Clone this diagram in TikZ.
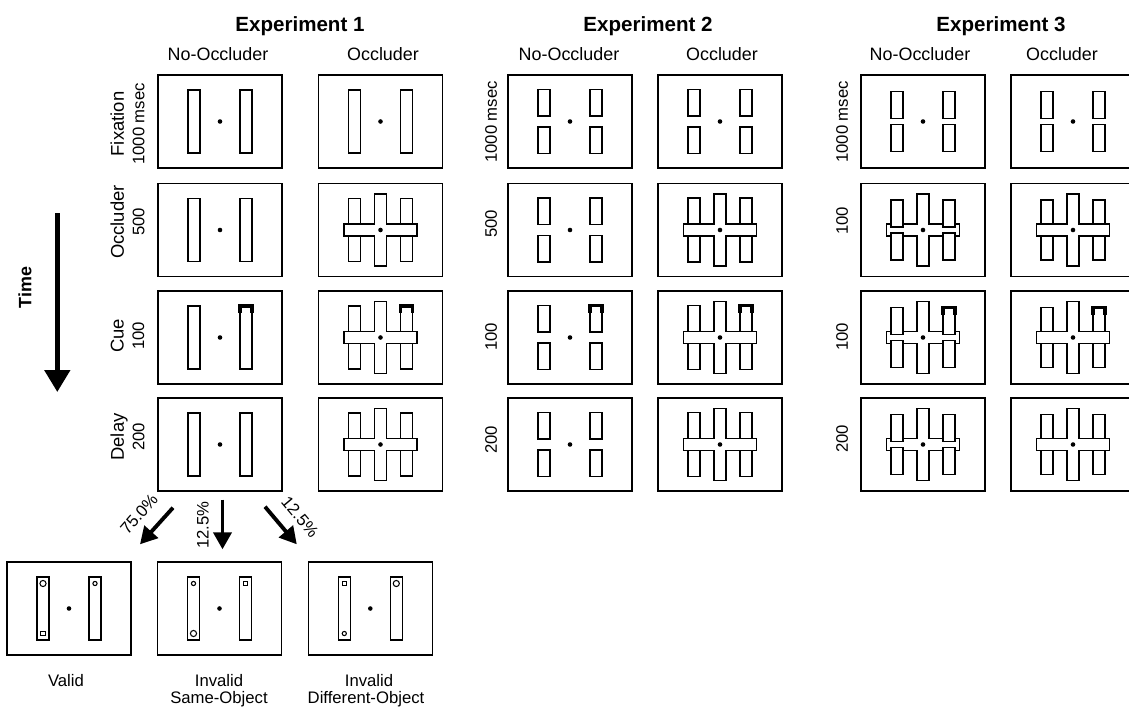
\documentclass[tikz,border=0pt]{standalone}
\usepackage{fontspec}
\setmainfont{Liberation Sans}
\usetikzlibrary{arrows.meta, positioning}

\newcommand{\durfont}{\fontsize{9.5}{11.6}\selectfont}

\tikzset{
  pics/longbars/.style={code={
    \draw[bar] (-32,-31.5) rectangle (-20,31.5);
    \draw[bar] (20,-31.5) rectangle (32,31.5);
  }},
  pics/pieces/.style args={#1/#2}{code={
    \draw[bar] (-32,-#2) rectangle (-20,-#1);
    \draw[bar] (-32,#1) rectangle (-20,#2);
    \draw[bar] (20,-#2) rectangle (32,-#1);
    \draw[bar] (20,#1) rectangle (32,#2);
  }},
  pics/cross/.style={code={
    \draw[bar] (-36.5,-6) -| (-6,-36) -| (6,-6) -| (36.5,6) -| (6,36) -| (-6,6) -| (-36.5,-6) -- cycle;
  }},
  pics/cue/.style={code={
    \draw[cuemark] (20,{#1+7}) -- (20,#1) -- (32,#1) -- (32,{#1+7});
  }},
  pics/bigo/.style={code={\draw[probe] (0,0) circle[radius=1.75pt];}},
  pics/smallo/.style={code={\draw[probe] (0,0) circle[radius=1.2pt];}},
  pics/sq/.style={code={\draw[probe] (-2.2,-2.2) rectangle (2.2,2.2);}}
}

\begin{document}
\begin{tikzpicture}[x=0.02cm, y=-0.02cm,
        panel/.style={draw, line width=0.8pt, minimum width=2.48cm, minimum height=1.86cm, inner sep=0pt},
        bar/.style={draw, fill=white, line width=0.6pt},
        cuemark/.style={line width=2pt, line join=miter},
        probe/.style={line width=0.6pt},
        exphead/.style={font=\fontsize{11.7}{14}\selectfont\bfseries, anchor=base},
        colhead/.style={font=\fontsize{10.2}{12}\selectfont, anchor=base},
        rowname/.style={font=\fontsize{10.5}{11.6}\selectfont, rotate=90, align=center},
        dur/.style={font=\durfont, rotate=90},
        pct/.style={font=\fontsize{9.5}{11}\selectfont, inner sep=1pt},
        lab/.style={font=\fontsize{9.5}{11}\selectfont, anchor=base},
        timelabel/.style={font=\fontsize{10.2}{12}\selectfont\bfseries, rotate=90},
        timearrow/.style={line width=2.8pt, -{Triangle[length=0.44cm, width=0.5cm]}},
        probarrow/.style={line width=2.2pt, -{Triangle[length=0.34cm, width=0.36cm]}}
    ]
        \useasboundingbox (0,0) rectangle (1129,711);
        \clip (0,0) rectangle (1129,711);

        % Headings
        \node[exphead] (exp1) at (300,31.7) {Experiment 1};
        \node[exphead] (exp2) at (648,31.7) {Experiment 2};
        \node[exphead] (exp3) at (1001,31.7) {Experiment 3};
        \node[colhead] (e1nh) at (218,60.7) {No-Occluder};
        \node[colhead] (e1oh) at (383,60.7) {Occluder};
        \node[colhead] (e2nh) at (569,60.7) {No-Occluder};
        \node[colhead] (e2oh) at (722,60.7) {Occluder};
        \node[colhead] (e3nh) at (920,60.7) {No-Occluder};
        \node[colhead] (e3oh) at (1062,60.7) {Occluder};

        % Row labels
        \node[rowname] (e1l1) at (127.5,124) {Fixation\\{\durfont 1000 msec}};
        \node[rowname] (e1l2) at (127.5,222) {Occluder\\{\durfont 500}};
        \node[rowname] (e1l3) at (127.5,336) {Cue\\{\durfont 100}};
        \node[rowname] (e1l4) at (127.5,437) {Delay\\{\durfont 200}};
        \node[dur] (e2l1) at (491,122) {1000 msec};
        \node[dur] (e2l2) at (491,224) {500};
        \node[dur] (e2l3) at (491,337) {100};
        \node[dur] (e2l4) at (491,440) {200};
        \node[dur] (e3l1) at (842,122) {1000 msec};
        \node[dur] (e3l2) at (842,221) {100};
        \node[dur] (e3l3) at (842,337) {100};
        \node[dur] (e3l4) at (842,439) {200};

        % Panels
        \foreach \r/\y in {1/121.5, 2/230, 3/337.5, 4/444.5} {
            \node[panel] (e1n\r) at (220,\y) {};
            \node[panel] (e1o\r) at (380.5,\y) {};
            \node[panel] (e2n\r) at (570,\y) {};
            \node[panel] (e2o\r) at (720,\y) {};
            \node[panel] (e3n\r) at (923,\y) {};
            \node[panel] (e3o\r) at (1073,\y) {};
        }
        \node[panel] (valid) at (69,608.5) {};
        \node[panel] (same) at (219.5,608.5) {};
        \node[panel] (diff) at (370.3,608.5) {};

        % Placeholders
        \foreach \r in {1,...,4} {
            \pic at (e1n\r) {longbars};
            \pic at (e1o\r) {longbars};
            \pic at (e2n\r) {pieces=5.5/32};
            \pic at (e2o\r) {pieces=5.5/32};
            \pic at (e3o\r) {pieces=3/30};
        }
        \pic at (e3n1) {pieces=3/30};
        \foreach \r in {2,3,4} {
            \pic at (e1o\r) {cross};
            \pic at (e2o\r) {cross};
            \pic at (e3o\r) {cross};
            \pic at (e3n\r) {cross};
            \pic at (e3n\r) {pieces=3/30};
        }
        \foreach \p in {valid, same, diff} \pic at (\p) {longbars};

        % Cues
        \pic at (e1n3) {cue=-31.5};
        \pic at (e1o3) {cue=-31.5};
        \pic at (e2n3) {cue=-32};
        \pic at (e2o3) {cue=-32};
        \pic at (e3n3) {cue=-30};
        \pic at (e3o3) {cue=-30};

        % Targets
        \pic at ([shift={(-26,-25)}]valid.center) {bigo};
        \pic at ([shift={(-26,25)}]valid.center) {sq};
        \pic at ([shift={(26,-25)}]valid.center) {smallo};
        \pic at ([shift={(-26,-25)}]same.center) {smallo};
        \pic at ([shift={(-26,25)}]same.center) {bigo};
        \pic at ([shift={(26,-25)}]same.center) {sq};
        \pic at ([shift={(-26,-25)}]diff.center) {sq};
        \pic at ([shift={(-26,25)}]diff.center) {smallo};
        \pic at ([shift={(26,-25)}]diff.center) {bigo};

        % Fixation dots
        \foreach \p in {e1n, e1o, e2n, e2o, e3n, e3o}
            \foreach \r in {1,...,4}
                \fill (\p\r) circle[radius=1.3pt];
        \foreach \p in {valid, same, diff} \fill (\p) circle[radius=1.3pt];

        % Arrows
        \coordinate (tstart) at (57.3,213);
        \coordinate (tend) at (57.3,392);
        \draw[timearrow] (tstart) -- (tend);
        \node[timelabel] (time) at (25,287.5) {Time};

        \draw[probarrow] ([shift={(-47,16)}]e1n4.south) -- ([shift={(71,-17)}]valid.north);
        \draw[probarrow] ([shift={(2.5,8)}]e1n4.south) -- ([shift={(3,-12)}]same.north);
        \draw[probarrow] ([shift={(45,15)}]e1n4.south) -- ([shift={(-73.5,-17)}]diff.north);
        \node[pct, rotate=49] (p1) at (139,514) {75.0\%};
        \node[pct, rotate=90] (p2) at (203,525) {12.5\%};
        \node[pct, rotate=-50] (p3) at (300,517) {12.5\%};

        % Outcome labels
        \node[lab] (validlbl) at (66,686) {Valid};
        \node[lab] (samelbl) at (219,686) {Invalid};
        \node[lab] (samelbl2) at (219,703.5) {Same-Object};
        \node[lab] (difflbl) at (369,686) {Invalid};
        \node[lab] (difflbl2) at (366,703.5) {Different-Object};
    \end{tikzpicture}
\end{document}
